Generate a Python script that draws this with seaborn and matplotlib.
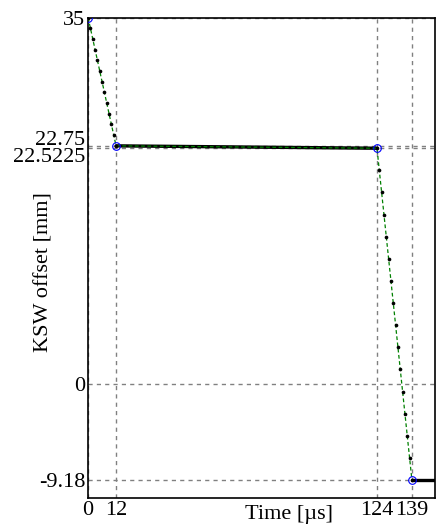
import matplotlib
matplotlib.use("Agg")
import matplotlib.pyplot as plt
import matplotlib.transforms as mtransforms
import seaborn as sns
import pandas as pd

# Key waypoints (blue circles)
key_t = [0, 12, 124, 139]
key_y = [35, 22.75, 22.5225, -9.18]

# Sampled trajectory on the ramps (black dots, 1 us spacing)
ramp1_t = [0, 1, 2, 3, 4, 5, 6, 7, 8, 9, 10, 11, 12]
ramp1_y = [35.0, 33.98, 32.96, 31.94, 30.92, 29.9, 28.88, 27.85, 26.83, 25.81, 24.79, 23.77, 22.75]
ramp2_t = [124, 125, 126, 127, 128, 129, 130, 131, 132, 133, 134, 135, 136, 137, 138, 139]
ramp2_y = [22.52, 20.41, 18.3, 16.18, 14.07, 11.95, 9.84, 7.73, 5.61, 3.5, 1.39, -0.73, -2.84, -4.95, -7.07, -9.18]

# Dense (plateau) portions, drawn as a thick trace
flat_t = [12, 124]
flat_y = [22.75, 22.5225]
tail_t = [139, 149]
tail_y = [-9.18, -9.18]

xticks = [0, 12, 124, 139]
yticks = [-9.18, 0, 22.5225, 22.75, 35]
ytick_labels = ["-9.18", "0", "22.5225", "22.75", "35"]

sns.set_theme(style="white")
plt.rcParams["font.family"] = ["Liberation Serif", "DejaVu Serif"]

fig = plt.figure(figsize=(4.45, 5.25), dpi=100)
ax = fig.add_axes([0.198, 0.0514, 0.78, 0.915])

# grid lines
for xv in xticks:
    ax.axvline(xv, color="#808080", ls=(0, (3, 3)), lw=1.0, zorder=1)
for yv in yticks:
    ax.axhline(yv, color="#808080", ls=(0, (3, 3)), lw=1.0, zorder=1)

# thick plateau traces
sns.lineplot(x=flat_t, y=flat_y, ax=ax, color="black", lw=2.4, zorder=3)
sns.lineplot(x=tail_t, y=tail_y, ax=ax, color="black", lw=2.4, zorder=3)

# green dashed connection between waypoints
sns.lineplot(x=key_t, y=key_y, ax=ax, color="green", lw=0.9, ls=(0, (3, 2)), zorder=4, sort=False)

# black sample dots
dots = pd.DataFrame({"t": ramp1_t + ramp2_t, "y": ramp1_y + ramp2_y})
sns.scatterplot(data=dots, x="t", y="y", ax=ax, color="black", s=7, linewidth=0, zorder=5)

# blue open circles at waypoints
ax.plot(key_t, key_y, ls="none", marker="o", ms=5.5, mfc="none", mec="blue", mew=0.8, zorder=6)

ax.set_xlim(0, 149)
ax.set_ylim(-10.9, 35)
ax.set_xticks(xticks)
ax.set_xticklabels([str(v) for v in xticks])
ax.set_yticks(yticks)
ax.set_yticklabels(ytick_labels)
ax.tick_params(axis="both", length=0, labelsize=16, colors="black")
ax.tick_params(axis="x", pad=2)
ax.tick_params(axis="y", pad=2)

# separate the two close y tick labels
shifts = {"22.75": 6.0, "22.5225": -5.0}
for lab in ax.get_yticklabels():
    txt = lab.get_text()
    if txt in shifts:
        off = mtransforms.ScaledTranslation(0, shifts[txt] / 72.0, fig.dpi_scale_trans)
        lab.set_transform(lab.get_transform() + off)

for sp in ax.spines.values():
    sp.set_color("black")
    sp.set_linewidth(1.2)

ax.set_xlabel("Time [µs]", fontsize=16, color="black")
ax.xaxis.set_label_coords(0.58, -0.035)
ax.xaxis.label.set_va("center")
ax.set_ylabel("KSW offset [mm]", fontsize=16, color="black")
ax.yaxis.set_label_coords(-0.127, 0.47)
ax.yaxis.label.set_va("center")

fig.savefig("out.png", dpi=100)
